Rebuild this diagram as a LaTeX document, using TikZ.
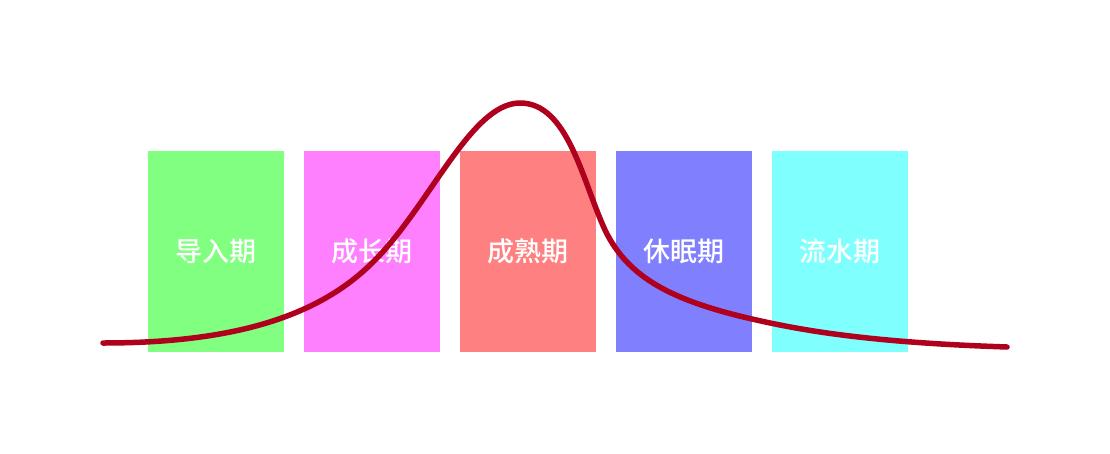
\documentclass[tikz,border=0pt]{standalone}
\usepackage{fontspec}
\newfontfamily\cjk{Noto Sans CJK SC Medium}
\definecolor{stagegreen}{HTML}{80FF80}
\definecolor{stagepink}{HTML}{FF80FF}
\definecolor{stagered}{HTML}{FF8080}
\definecolor{stageblue}{HTML}{8080FF}
\definecolor{stagecyan}{HTML}{80FFFF}
\definecolor{curvered}{HTML}{AF001E}
\tikzset{
  stagebox/.style={minimum width=136pt, minimum height=201pt, inner sep=0pt,
    text=white, font=\cjk\fontsize{27}{31}\selectfont},
  lifecurve/.style={curvered, line width=5.5pt, line cap=round}
}
\begin{document}
\begin{tikzpicture}[x=1pt, y=-1pt]
    % 画面の範囲
    \useasboundingbox (0,0) rectangle (1110,453);

    % 各期の箱
    \foreach \i/\col/\txt in {0/stagegreen/导入期, 1/stagepink/成长期, 2/stagered/成熟期, 3/stageblue/休眠期, 4/stagecyan/流水期} {
      \node[stagebox, fill=\col] (S\i) at (216 + 156 * \i, 251.5) {\txt};
    }

    % 曲線の通過点
    \coordinate (C0) at (103,343);
    \coordinate (C1) at (370,265);
    \coordinate (C2) at (520,103);
    \coordinate (C3) at (605,230);
    \coordinate (C4) at (780,325);
    \coordinate (C5) at (1007,347);

    % ライフサイクル曲線
    \draw[lifecurve] (C0) .. controls (230,343) and (315,318) .. (C1)
      .. controls (428,210) and (470,103) .. (C2)
      .. controls (568,103) and (582,180) .. (C3)
      .. controls (630,282) and (680,305) .. (C4)
      .. controls (860,341) and (950,345) .. (C5);
\end{tikzpicture}
\end{document}
